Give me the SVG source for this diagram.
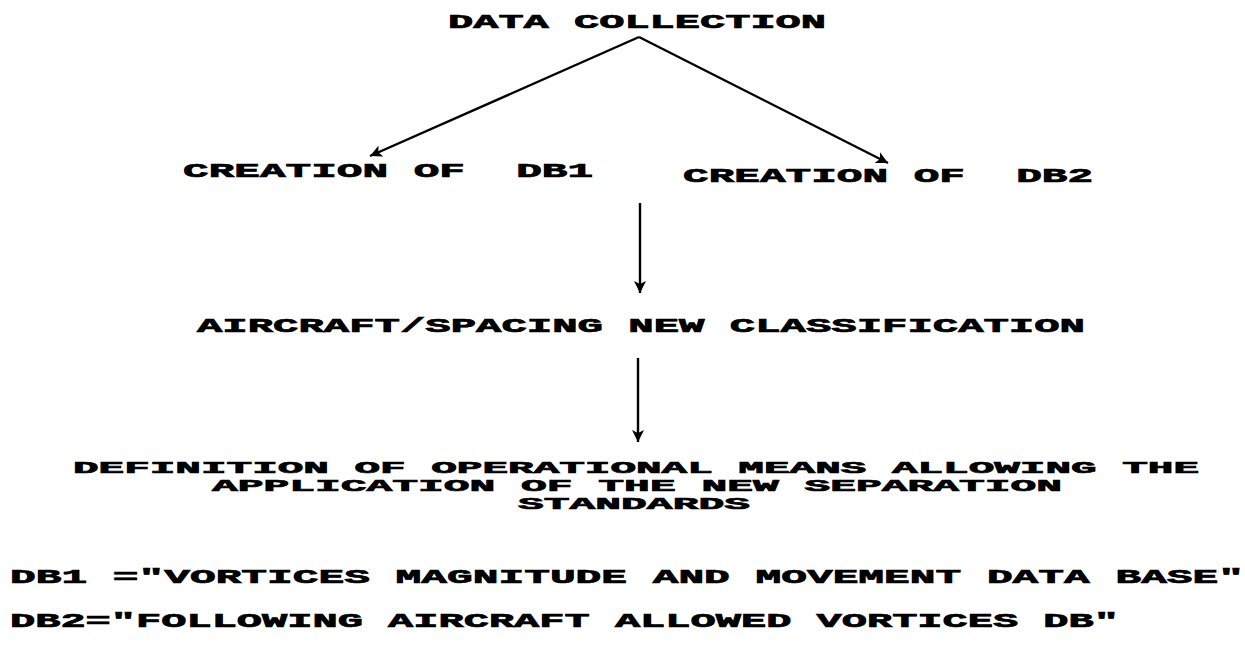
<svg xmlns="http://www.w3.org/2000/svg" width="1245" height="657" viewBox="0 0 1245 657">
<defs>
<style>
text{font-family:"Liberation Mono","Courier New",monospace;font-weight:bold;font-size:20px;fill:#000;stroke:#000;stroke-width:0.7;white-space:pre}
.d{font-size:17px}
.c{stroke:#000;stroke-width:2.4;fill:none;marker-end:url(#ah)}
</style>
<marker id="ah" markerUnits="userSpaceOnUse" markerWidth="14" markerHeight="12" refX="12" refY="6" orient="auto">
<path d="M0,0 L12,6 L0,12 L3,6 Z" fill="#000"/>
</marker>
</defs>
<rect width="1245" height="657" fill="#fff"/>
<g id="connectors">
<line class="c" x1="639" y1="37" x2="370" y2="156"/>
<line class="c" x1="639" y1="37" x2="888" y2="163"/>
<line class="c" x1="640" y1="203" x2="640" y2="293"/>
<line class="c" x1="638" y1="358" x2="638" y2="442"/>
</g>
<g id="data-collection"><text x="448" y="28" textLength="378" lengthAdjust="spacingAndGlyphs">DATA COLLECTION</text></g>
<g id="creation-db1"><text x="183" y="177" textLength="410" lengthAdjust="spacingAndGlyphs">CREATION OF  DB1</text></g>
<g id="creation-db2"><text x="683" y="182" textLength="410" lengthAdjust="spacingAndGlyphs">CREATION OF  DB2</text></g>
<g id="classification"><text x="197" y="332" textLength="888" lengthAdjust="spacingAndGlyphs">AIRCRAFT/SPACING NEW CLASSIFICATION</text></g>
<g id="definition">
<text class="d" x="73" y="473" textLength="1126" lengthAdjust="spacingAndGlyphs">DEFINITION OF OPERATIONAL MEANS ALLOWING THE</text>
<text class="d" x="212" y="491" textLength="850" lengthAdjust="spacingAndGlyphs">APPLICATION OF THE NEW SEPARATION</text>
<text class="d" x="518" y="509" textLength="232" lengthAdjust="spacingAndGlyphs">STANDARDS</text>
</g>
<g id="legend-db1"><text x="10" y="583" textLength="1234" lengthAdjust="spacingAndGlyphs">DB1 ="VORTICES MAGNITUDE AND MOVEMENT DATA BASE"</text></g>
<g id="legend-db2"><text x="10" y="627" textLength="1109" lengthAdjust="spacingAndGlyphs">DB2="FOLLOWING AIRCRAFT ALLOWED VORTICES DB"</text></g>
</svg>
